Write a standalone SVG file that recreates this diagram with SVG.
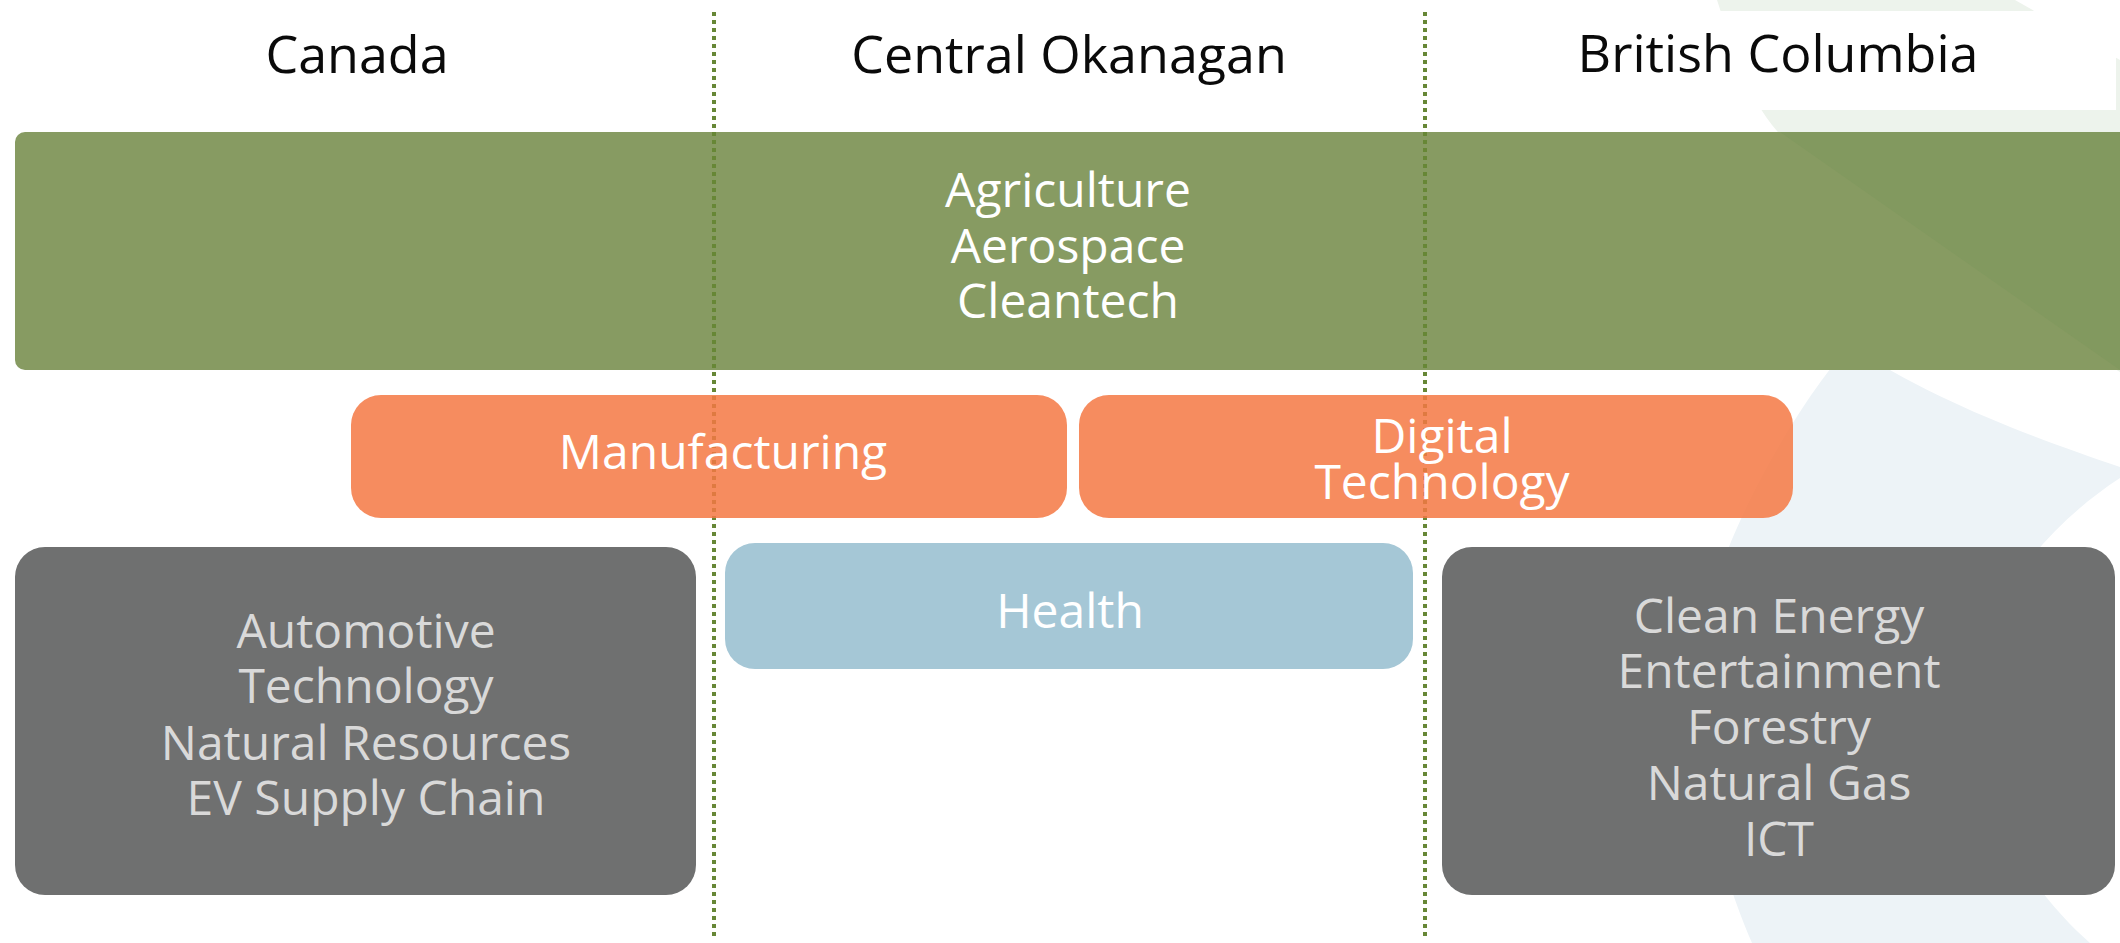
<svg xmlns="http://www.w3.org/2000/svg" width="2120" height="943" viewBox="0 0 2120 943">
<style>
text{font-family:"Open Sans","Noto Sans","Liberation Sans",sans-serif;text-anchor:middle}
.hdr{font-size:52px;fill:#0a0a0a}
.w{font-size:48px;fill:#ffffff}
.g{font-size:48px;fill:#d9d9d9}
.sep{stroke:#678736;stroke-width:4;stroke-dasharray:4 4;fill:none}
.green{fill:#879b62}
.orange{fill:#f47843;opacity:0.85}
.blue{fill:#a5c7d6}
.gray{fill:#6f7070}
</style>
<rect width="2120" height="943" fill="#ffffff"/>
<g id="watermark">
<path d="M1717,0 L2015,0 L2120,60 L2120,372 C2000,300 1850,220 1772,125 C1745,90 1730,40 1717,0 Z" fill="#edf3ec"/>
<path d="M1850,345 C1800,400 1700,560 1697,680 C1697,790 1725,880 1752,943 L2090,943 C2040,900 1965,800 1967,710 C1970,620 2040,530 2120,478 L2120,467 C2040,440 1930,400 1850,345 Z" fill="#edf3f7"/>
<rect x="0" y="11" width="2116" height="99" fill="#ffffff"/>
</g>
<g id="headers">
<text class="hdr" x="357" y="73">Canada</text>
<text class="hdr" x="1069" y="73">Central Okanagan</text>
<text class="hdr" x="1778" y="72">British Columbia</text>
</g>
<g id="node-shared">
<rect class="green" x="15" y="132" width="2125" height="238" rx="10"/>
<path d="M1780,132 L2120,132 L2120,370 Z" fill="#82995f"/>
<text class="w" x="1068" y="207">Agriculture</text>
<text class="w" x="1068" y="263">Aerospace</text>
<text class="w" x="1068" y="318">Cleantech</text>
</g>
<g id="connectors">
<line class="sep" x1="714" y1="12" x2="714" y2="938"/>
<line class="sep" x1="1425" y1="12" x2="1425" y2="938"/>
</g>
<g id="node-manufacturing">
<rect class="orange" x="351" y="395" width="716" height="123" rx="30"/>
<text class="w" x="723" y="469">Manufacturing</text>
</g>
<g id="node-digital">
<rect class="orange" x="1079" y="395" width="714" height="123" rx="30"/>
<text class="w" x="1442" y="453">Digital</text>
<text class="w" x="1442" y="499">Technology</text>
</g>
<g id="node-health">
<rect class="blue" x="725" y="543" width="688" height="126" rx="30"/>
<text class="w" x="1070" y="628">Health</text>
</g>
<g id="node-canada">
<rect class="gray" x="15" y="547" width="681" height="348" rx="30"/>
<text class="g" x="366" y="648">Automotive</text>
<text class="g" x="366" y="703">Technology</text>
<text class="g" x="366" y="760">Natural Resources</text>
<text class="g" x="366" y="815">EV Supply Chain</text>
</g>
<g id="node-bc">
<rect class="gray" x="1442" y="547" width="673" height="348" rx="30"/>
<text class="g" x="1779" y="633">Clean Energy</text>
<text class="g" x="1779" y="688">Entertainment</text>
<text class="g" x="1779" y="744">Forestry</text>
<text class="g" x="1779" y="800">Natural Gas</text>
<text class="g" x="1779" y="856">ICT</text>
</g>
</svg>
